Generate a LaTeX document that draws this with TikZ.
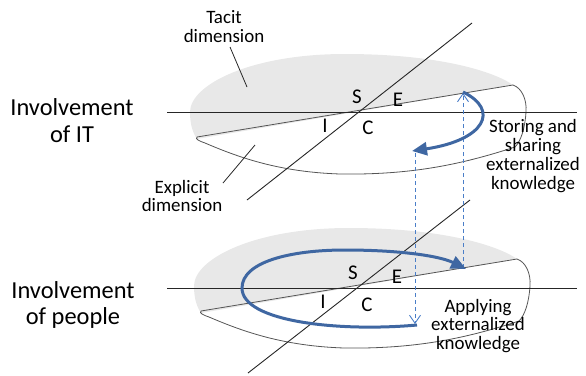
\documentclass[tikz,border=0pt]{standalone}
\usepackage{fontspec}
\setmainfont{Carlito}
\usetikzlibrary{arrows.meta}
\definecolor{tacitgray}{HTML}{E8E8E8}
\definecolor{bluearr}{HTML}{3F67A2}
\definecolor{dashblue}{HTML}{4A7EC8}
\definecolor{outlinegray}{HTML}{555555}
\tikzset{
  axisline/.style={draw=black!85, line width=0.9bp},
  outlineline/.style={draw=outlinegray, line width=0.8bp},
  leader/.style={draw=black!85, line width=0.8bp},
  bigarrow/.style={draw=bluearr, line width=3bp, -{Triangle[length=15bp,width=13bp]}},
  dasharrow/.style={draw=dashblue, line width=0.9bp, dash pattern=on 4bp off 3bp, -{Straight Barb[length=8bp,width=11bp]}},
  biglabel/.style={font=\fontsize{24.5}{27}\selectfont, align=center, inner sep=0pt},
  smalllabel/.style={font=\fontsize{19}{19}\selectfont, align=center, inner sep=0pt},
  letter/.style={font=\fontsize{21}{21}\selectfont, inner sep=0pt},
}
\newcommand{\tacitshape}{%
  \fill[tacitgray] (197,139) -- (513,85) .. controls (495,72) and (440,54) .. (345,54)
    .. controls (250,54) and (190,85) .. (190,112)
    .. controls (190,125) and (193,133) .. (197,139) -- cycle;
  \draw[outlineline] (197,137) -- (513,85) .. controls (522,88) and (527,100) .. (526,112)
    .. controls (525,128) and (521,141) .. (515,147)
    .. controls (460,165) and (410,175) .. (340,174)
    .. controls (280,172) and (240,158) .. (205,143)
    .. controls (199,141) and (195,139) .. (197,137);
}
\begin{document}
\begin{tikzpicture}[x=1bp,y=-1bp]
\useasboundingbox (0,0) rectangle (586,375);
% ---------- tacit / explicit shapes ----------
\tacitshape
\begin{scope}[shift={(4,174)}]
\tacitshape
\end{scope}
% axes
\coordinate (h1a) at (167,112); \coordinate (h1b) at (577,112);
\coordinate (g1a) at (472,23);  \coordinate (g1b) at (247,200);
\coordinate (h2a) at (167,288); \coordinate (h2b) at (577,288);
\coordinate (g2a) at (470,200); \coordinate (g2b) at (248,373);
\draw[axisline] (h1a) -- (h1b);
\draw[axisline] (g1a) -- (g1b);
\draw[axisline] (h2a) -- (h2b);
\draw[axisline] (g2a) -- (g2b);
% letters
\node[letter] (s1) at (357,97) {S};
\node[letter] (e1) at (398,100) {E};
\node[letter] (i1) at (325,126) {I};
\node[letter] (c1) at (368,128) {C};
\node[letter] (s2) at (353,273) {S};
\node[letter] (e2) at (397,277) {E};
\node[letter] (i2) at (323,302) {I};
\node[letter] (c2) at (367,305) {C};
% labels
\node[biglabel] (inv1) at (72,121) {Involvement\\of IT};
\node[biglabel] (inv2) at (73,305) {Involvement\\of people};
\node[smalllabel] (tacit) at (224,27) {Tacit\\dimension};
\node[smalllabel] (expl) at (182,196) {Explicit\\dimension};
\node[smalllabel] (store) at (533,156) {Storing and\\sharing\\externalized\\knowledge};
\node[smalllabel] (apply) at (478,326) {Applying\\externalized\\knowledge};
% leader lines
\coordinate (ta) at (230,47); \coordinate (tb) at (247,87);
\coordinate (ea) at (255,145); \coordinate (eb) at (223,183);
\draw[leader] (ta) -- (tb);
\draw[leader] (ea) -- (eb);
% dashed arrows
\coordinate (d1b) at (463,268); \coordinate (d1t) at (463,93);
\coordinate (d2t) at (415,153); \coordinate (d2b) at (415,324);
\draw[dasharrow] (d1b) -- (d1t);
\draw[dasharrow] (d2t) -- (d2b);
% big blue arrows
\coordinate (u1) at (463,92); \coordinate (u2) at (412,151);
\draw[bigarrow] (u1) .. controls (500,110) and (485,140) .. (u2);
\coordinate (l1) at (417,325); \coordinate (l2) at (466,269);
\draw[bigarrow] (l1) .. controls (340,332) and (242,322) .. (242,288)
  .. controls (242,262) and (290,250) .. (345,250)
  .. controls (400,250) and (440,256) .. (l2);
\end{tikzpicture}
\end{document}
